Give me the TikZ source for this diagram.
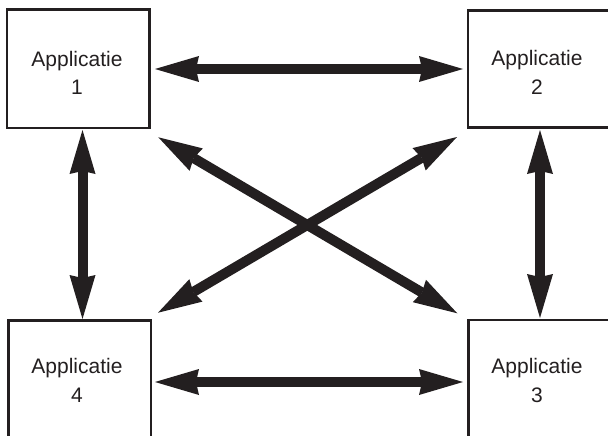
\documentclass[tikz,border=0pt]{standalone}
\usepackage{fontspec}
\setmainfont{Liberation Sans}
\usetikzlibrary{arrows.meta,calc}
\definecolor{ink}{HTML}{231F20}
\begin{document}
\begin{tikzpicture}[x=1pt,y=-1pt,
  appbox/.style 2 args={draw=ink, line width=2.5pt, inner sep=0pt,
    minimum width=#1, minimum height=#2},
  apptext/.style={anchor=base, align=center, text=ink, inner sep=0pt,
    font=\fontsize{21}{28.5}\selectfont},
  conn/.style={draw=ink, line width=10pt, {Stealth[length=44pt, width=26pt, inset=3pt, line width=0pt]}-{Stealth[length=44pt, width=26pt, inset=3pt, line width=0pt]}}]
\useasboundingbox (0,0) rectangle (608,436);

% the four applications
\node[appbox={142.1pt}{118.5pt}] (app1) at (78.25,68.75) {};
\node[appbox={141pt}{117pt}]     (app2) at (538.5,69)    {};
\node[appbox={141pt}{124pt}]     (app3) at (538.8,382)   {};
\node[appbox={142.7pt}{123pt}]   (app4) at (79.65,382)   {};

% labels, placed by the baseline of their last line
\node[apptext] (app1txt) at (77,95)     {Applicatie\\1};
\node[apptext] (app2txt) at (537,94.5)  {Applicatie\\2};
\node[apptext] (app3txt) at (537,402)   {Applicatie\\3};
\node[apptext] (app4txt) at (77,402)    {Applicatie\\4};

% links between every pair
\draw[conn] ($(app1.east)+(4.45,0.25)$) -- ($(app2.west)+(-3.75,0)$);
\draw[conn] ($(app4.east)+(2.75,0)$) -- ($(app3.west)+(-4.05,0)$);
\draw[conn] ($(app1.south)+(4.25,0.75)$) -- ($(app4.north)+(2.85,-0.25)$);
\draw[conn] ($(app2.south)+(1.5,1.25)$) -- ($(app3.north)+(1.2,-0.75)$);
\draw[conn] ($(app1.south east)+(7.75,8.05)$) -- ($(app3.north west)+(-9.75,-5.45)$);
\draw[conn] ($(app4.north east)+(5.75,-6.55)$) -- ($(app2.south west)+(-9.75,8.25)$);
\end{tikzpicture}
\end{document}
